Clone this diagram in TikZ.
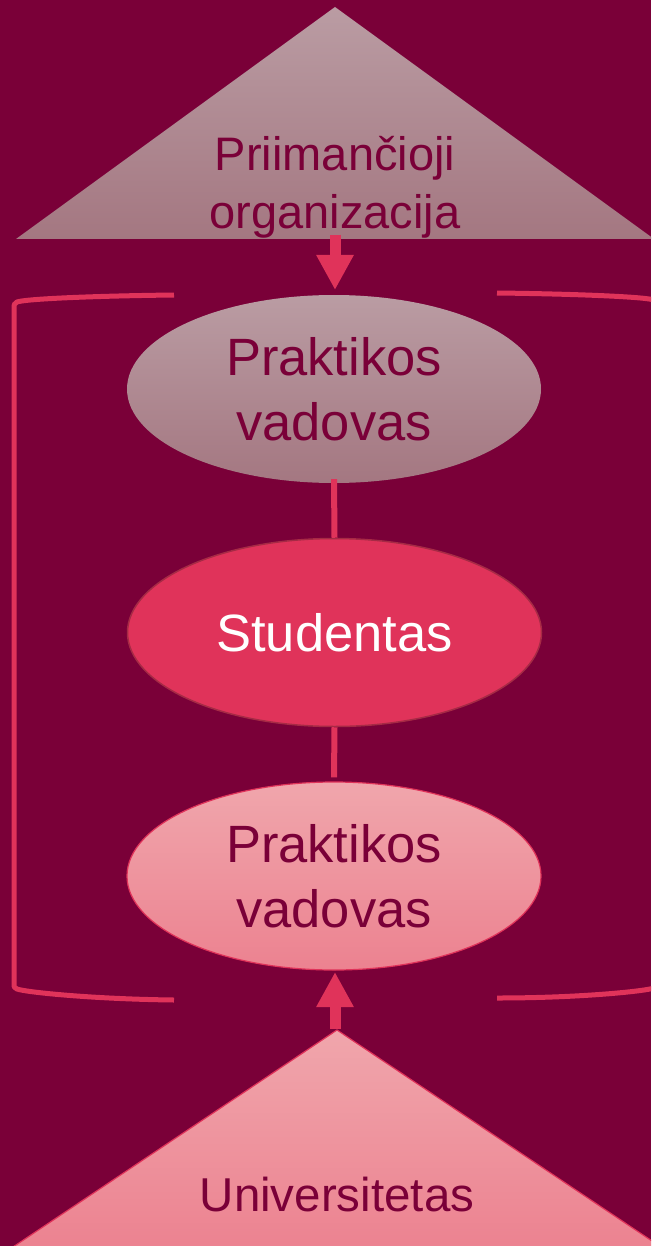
\documentclass[tikz,border=0pt]{standalone}
\usepackage{fontspec}
\setmainfont{Liberation Sans}
\usetikzlibrary{arrows.meta,shapes.geometric}
\definecolor{bg}{HTML}{7A0038}
\definecolor{accent}{HTML}{E0335A}
\definecolor{mauveT}{HTML}{BA9CA3}
\definecolor{mauveB}{HTML}{A47781}
\definecolor{pinkT}{HTML}{F0A6AC}
\definecolor{pinkB}{HTML}{EC8290}
\definecolor{stuborder}{HTML}{A62A45}
\begin{document}
\begin{tikzpicture}[x=1pt,y=-1pt,
  conn/.style={accent, line width=6pt},
  bracketline/.style={accent, line width=5pt, line join=round},
  bigarrow/.style={accent, line width=11pt, -{Triangle[width=35pt,length=35pt]}},
  lbl/.style={text=bg, align=center},
  ell/.style={ellipse, minimum width=414pt, minimum height=188pt, inner sep=0pt, align=center, font=\fontsize{52.5}{65}\selectfont}]
\clip (0,0) rectangle (651,1246);
\fill[bg] (0,0) rectangle (651,1246);
% top triangle
\shade[top color=mauveT,bottom color=mauveB] (335,7) -- (654,239) -- (16,239) -- cycle;
\node[lbl, font=\fontsize{47}{58}\selectfont] (org) at (335,187) {Priimančioji\\organizacija};
% bottom triangle
\shadedraw[top color=pinkT,bottom color=pinkB,draw=accent,line width=1.2pt] (337,1030) -- (665.5,1250) -- (8.5,1250) -- cycle;
\node[lbl, font=\fontsize{47.5}{58}\selectfont, anchor=base] (uni) at (337,1211) {Universitetas};
% brackets
\draw[bracketline] (174,295) .. controls (90,296) and (25,299) .. (17,302) .. controls (14,303) and (14,305) .. (14,309) -- (14,983) .. controls (14,987) and (14,988) .. (17,989) .. controls (25,992) and (90,999) .. (174,1000);
\draw[bracketline] (497,293) .. controls (581,294) and (646,297) .. (654,300) .. controls (657,301) and (657,303) .. (657,307) -- (657,982) .. controls (657,986) and (657,987) .. (654,988) .. controls (646,991) and (581,998) .. (497,998);
% ellipses
\node[ell, top color=mauveT, bottom color=mauveB, text=bg] (pv1) at (334,389) {Praktikos\\vadovas};
\node[ell, fill=accent, draw=stuborder, line width=1.5pt, text=white] (stu) at (334.5,632.5) {Studentas};
\node[ell, top color=pinkT, bottom color=pinkB, draw=accent, line width=1.2pt, text=bg] (pv2) at (334,876) {Praktikos\\vadovas};
% connectors
\draw[conn] ([yshift=4pt]pv1.south) -- (stu.north);
\draw[conn] (stu.south) -- ([yshift=4pt]pv2.north);
% arrows
\coordinate (a1s) at (335,235);
\coordinate (a1e) at (335,290);
\draw[bigarrow] (a1s) -- (a1e);
\coordinate (a2s) at (335,1029);
\coordinate (a2e) at (335,972);
\draw[bigarrow] (a2s) -- (a2e);
\end{tikzpicture}
\end{document}
